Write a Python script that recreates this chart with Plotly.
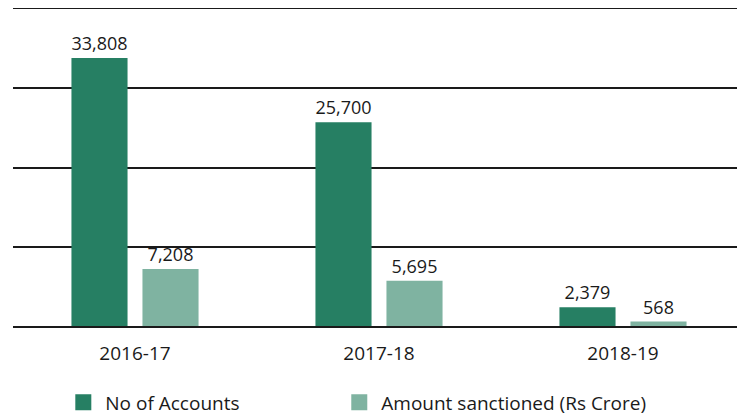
import plotly.graph_objects as go

categories = ["2016-17", "2017-18", "2018-19"]
accounts = [33808, 25700, 2379]
amount = [7208, 5695, 568]
series_names = ["No of Accounts", "Amount sanctioned (Rs Crore)"]
colors = ["#267F63", "#7FB3A1"]
y_grid = [0, 10000, 20000, 30000, 40000]

FONT = "'Open Sans', sans-serif"
TXT = "#1a1a1a"

fig = go.Figure()
for name, vals, col in zip(series_names, [accounts, amount], colors):
    fig.add_trace(go.Bar(
        x=categories, y=vals, name=name, marker=dict(color=col, line=dict(width=0)),
        texttemplate="%{y:,}", textposition="outside",
        textfont=dict(size=18, color=TXT, family=FONT),
        cliponaxis=False, showlegend=False,
    ))
for name, col, lg in zip(series_names, colors, ["legend", "legend2"]):
    fig.add_trace(go.Scatter(
        x=[None], y=[None], mode="markers", name=name, legend=lg,
        marker=dict(symbol="square", size=20, color=col),
    ))

legend_style = dict(
    orientation="h", xanchor="left", y=-0.181, yanchor="top",
    itemwidth=34, font=dict(size=19, family=FONT, color=TXT),
    bgcolor="rgba(0,0,0,0)",
)

# the page body has an 8px default margin, so the figure is sized to fit the window
fig.update_layout(
    width=737, height=408,
    margin=dict(l=5, r=0, t=1, b=90, autoexpand=False),
    paper_bgcolor="white", plot_bgcolor="white",
    barmode="group", bargap=0.418, bargroupgap=0.21,
    font=dict(family=FONT, size=19, color=TXT),
    showlegend=True,
    legend=dict(x=0.066, **legend_style),
    legend2=dict(x=0.443, **legend_style),
    xaxis=dict(
        showline=True, linecolor=TXT, linewidth=2, mirror=True, ticks="",
        ticklabelstandoff=9, tickfont=dict(size=19, family=FONT, color=TXT),
        showgrid=False, automargin=False,
    ),
    yaxis=dict(
        range=[0, 40000], tickvals=y_grid, showticklabels=False,
        showgrid=True, gridcolor=TXT, gridwidth=1.5, zeroline=False,
        fixedrange=True, automargin=False,
    ),
)

fig.write_html("out.html")
